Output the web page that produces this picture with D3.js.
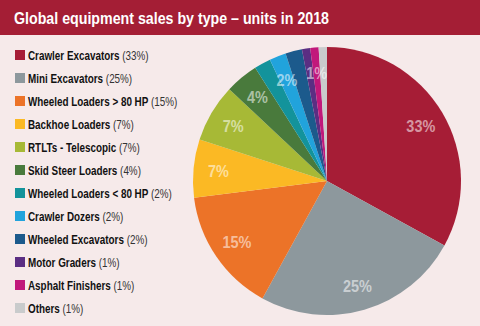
<!DOCTYPE html>
<html>
<head>
<meta charset="utf-8">
<script src="https://cdn.jsdelivr.net/npm/d3@7"></script>
<style>
  body { margin: 0; background: #f6eaea; }
  svg { display: block; }
</style>
</head>
<body>
<svg id="chart" width="480" height="326"></svg>
<script>
// Datos
const categories = ['Crawler Excavators', 'Mini Excavators', 'Wheeled Loaders > 80 HP', 'Backhoe Loaders',
  'RTLTs - Telescopic', 'Skid Steer Loaders', 'Wheeled Loaders < 80 HP', 'Crawler Dozers',
  'Wheeled Excavators', 'Motor Graders', 'Asphalt Finishers', 'Others']
const shares = [33, 25, 15, 7, 7, 4, 2, 2, 2, 1, 1, 1]
const colors = ['#a61d36', '#8d989d', '#ec7328', '#fbb924', '#a7b936', '#497a3c', '#13939b',
  '#21a3dc', '#1c5a8c', '#5b2e83', '#c1187b', '#c9cbcc']
// etiquetas dentro de la torta (indice de la rebanada)
const labelled = [0, 1, 2, 3, 4, 5, 7, 10]

const font = 'Liberation Sans Narrow, Liberation Sans, Arial, sans-serif'

const svg = d3.select('#chart')
const width = +svg.attr('width')
const height = +svg.attr('height')

svg.append('rect')
  .attr('width', width).attr('height', height)
  .attr('fill', '#f6eaea')

// Barra del titulo
svg.append('rect')
  .attr('width', width).attr('height', 35)
  .attr('fill', '#a41e35')

svg.append('text')
  .attr('x', 14).attr('y', 24)
  .attr('fill', 'white')
  .attr('font-family', font)
  .attr('font-weight', 'bold')
  .attr('font-size', 17)
  .attr('textLength', 315)
  .attr('lengthAdjust', 'spacingAndGlyphs')
  .text('Global equipment sales by type – units in 2018')

// Leyenda
const legendY = d3.scalePoint()
  .domain(categories)
  .range([55, 308])

const legend = svg.append('g')
const item = legend.selectAll('g').data(categories)
  .enter().append('g')
    .attr('transform', d => `translate(15, ${legendY(d)})`)

item.append('rect')
  .attr('y', -5).attr('width', 10).attr('height', 10)
  .attr('fill', (d, i) => colors[i])

const txt = item.append('text')
  .attr('transform', 'translate(13, 4.5) scale(0.79, 1)')
  .attr('font-family', font)
  .attr('font-size', 12.5)
  .attr('fill', '#111')
txt.append('tspan')
  .attr('font-weight', 'bold')
  .text(d => d)
txt.append('tspan')
  .attr('fill', '#333')
  .text((d, i) => ` (${shares[i]}%)`)

// Torta
const cx = 327, cy = 181, radius = 134
const pie = d3.pie().sort(null).value(d => d)
const arcs = pie(shares)
const arc = d3.arc().innerRadius(0).outerRadius(radius)
const labelArc = d3.arc().innerRadius(109).outerRadius(109)

const g = svg.append('g')
  .attr('transform', `translate(${cx}, ${cy})`)

g.selectAll('path').data(arcs)
  .enter().append('path')
    .attr('d', arc)
    .attr('fill', (d, i) => colors[i])

g.selectAll('text').data(arcs.filter(d => labelled.includes(d.index)))
  .enter().append('text')
    .attr('transform', d => `translate(${labelArc.centroid(d)}) scale(0.85, 1)`)
    .attr('text-anchor', 'middle')
    .attr('dy', '0.36em')
    .attr('font-family', font)
    .attr('font-weight', 'bold')
    .attr('font-size', 17)
    .attr('fill', 'white')
    .attr('fill-opacity', 0.55)
    .text(d => `${d.data}%`)
</script>
</body>
</html>
